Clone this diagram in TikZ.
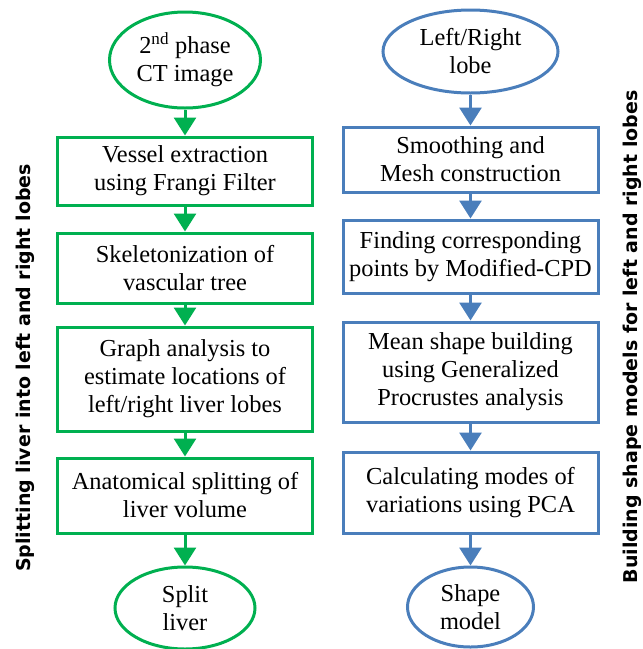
\documentclass[tikz,border=0pt]{standalone}
\usepackage{fontspec}
\setmainfont{Liberation Serif}
\newfontfamily\sidefont{DejaVu Sans}
\usepackage{tikz}
\usepackage{xcolor}
\usetikzlibrary{shapes.geometric, arrows.meta, positioning, calc}

\definecolor{splitgreen}{RGB}{0,176,80}
\definecolor{shapeblue}{RGB}{74,126,187}

\begin{document}
\begin{tikzpicture}[x=1pt, y=-1pt,
    every node/.style={align=center, font=\fontsize{24.4}{28}\selectfont},
    stepbox/.style={draw, rectangle, line width=3pt, minimum width=255pt, inner sep=0pt},
    endpoint/.style={draw, ellipse, line width=3pt, inner sep=0pt},
    flow/.style={line width=3pt, -{Triangle[width=22pt,length=18pt]}},
    sidelabel/.style={rotate=90, inner sep=0pt, font=\sidefont\bfseries\fontsize{19}{22}\selectfont}]
\useasboundingbox (0,0) rectangle (643,649);

% Left column - splitting the liver
\begin{scope}[color=splitgreen, every node/.append style={text=black}]
\node[endpoint, minimum width=151pt, minimum height=96pt] (ct) at (185,60) {2\textsuperscript{nd} phase\\CT image};
\node[stepbox, minimum height=68pt] (vessel) at (185,171) {Vessel extraction\\using Frangi Filter};
\node[stepbox, minimum height=70pt] (skel) at (185,268) {Skeletonization of\\vascular tree};
\node[stepbox, minimum height=104pt] (graph) at (185,379) {Graph analysis to\\estimate locations of\\left/right liver lobes};
\node[stepbox, minimum height=75pt] (anat) at (185,495.5) {Anatomical splitting of\\liver volume};
\node[endpoint, minimum width=140pt, minimum height=82pt] (split) at (185,608) {Split\\liver};
\foreach \a/\b in {ct/vessel, vessel/skel, skel/graph, graph/anat, anat/split} {
    \draw[flow] (\a) -- (\b);
}
\end{scope}

% Right column - building the shape models
\begin{scope}[color=shapeblue, every node/.append style={text=black}]
\node[endpoint, minimum width=175pt, minimum height=83pt] (lobe) at (470.5,51.5) {Left/Right\\lobe};
\node[stepbox, minimum height=65pt] (smooth) at (470.5,159.5) {Smoothing and\\Mesh construction};
\node[stepbox, minimum height=73pt] (corr) at (470.5,256.5) {Finding corresponding\\points by Modified-CPD};
\node[stepbox, minimum height=100pt] (mean) at (470.5,372) {Mean shape building\\using Generalized\\Procrustes analysis};
\node[stepbox, minimum height=81pt] (pca) at (470.5,492.5) {Calculating modes of\\variations using PCA};
\node[endpoint, minimum width=126pt, minimum height=80pt] (model) at (470.5,607) {Shape\\model};
\foreach \a/\b in {lobe/smooth, smooth/corr, corr/mean, mean/pca, pca/model} {
    \draw[flow] (\a) -- (\b);
}
\end{scope}

% Side captions
\node[sidelabel] (splitcap) at (25,368) {Splitting liver into left and right lobes};
\node[sidelabel] (shapecap) at (632.5,337) {Building shape models for left and right lobes};
\end{tikzpicture}
\end{document}
